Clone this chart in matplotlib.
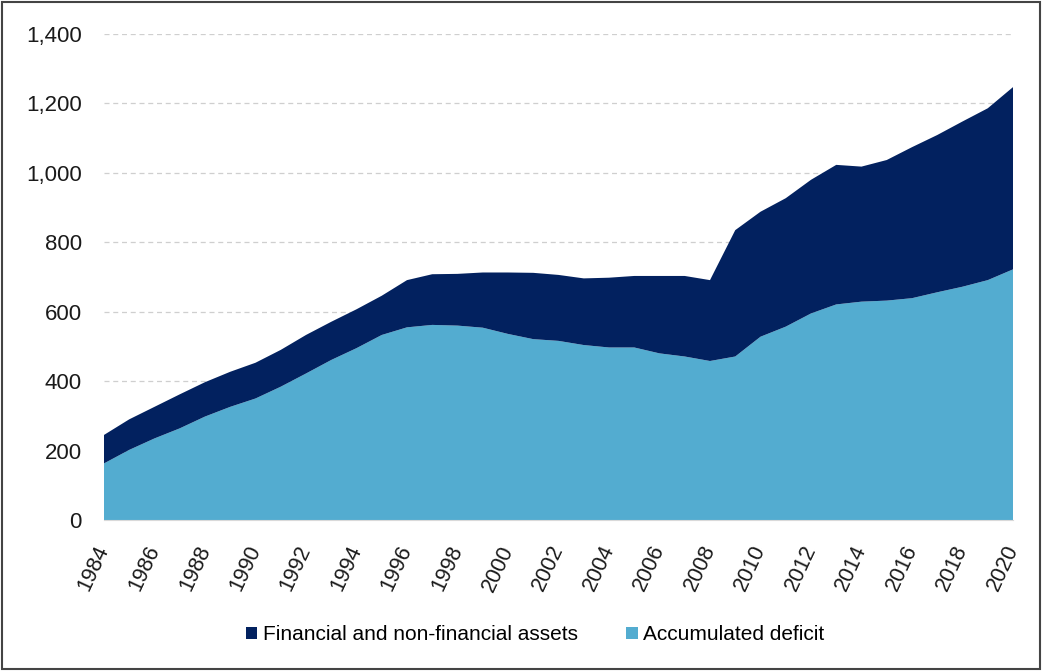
import matplotlib
matplotlib.use("Agg")
import matplotlib.pyplot as plt
from matplotlib.ticker import FuncFormatter, MultipleLocator
from matplotlib.patches import Rectangle

plt.rcParams['font.family'] = ['Liberation Sans', 'DejaVu Sans']

years = list(range(1984, 2021))
accumulated_deficit = [163, 202, 235, 264, 298, 326, 350, 384, 422, 461, 495, 533, 555,
                       562, 560, 554, 536, 521, 516, 504, 497, 497, 480, 471, 458, 471,
                       528, 557, 595, 621, 629, 632, 639, 656, 672, 691, 722]
total = [245, 290, 326, 362, 397, 427, 453, 490, 533, 571, 607, 646, 691,
         708, 709, 713, 713, 712, 706, 696, 698, 703, 703, 703, 691, 835,
         888, 927, 980, 1023, 1018, 1037, 1074, 1109, 1148, 1186, 1247]
assets = [t - d for t, d in zip(total, accumulated_deficit)]

dark = '#02215F'
light = '#53ACD0'

fig = plt.figure(figsize=(10.42, 6.71), dpi=100)
ax = fig.add_axes([104 / 1042, 1 - 520 / 671, (1013 - 104) / 1042, (520 - 34) / 671])

ax.stackplot(years, accumulated_deficit, assets, colors=[light, dark],
             labels=['Accumulated deficit', 'Financial and non-financial assets'],
             linewidth=0)

ax.set_xlim(1984, 2020)
ax.set_ylim(0, 1400)
ax.yaxis.set_major_locator(MultipleLocator(200))
ax.yaxis.set_major_formatter(FuncFormatter(lambda v, p: f'{int(v):,}'))
ax.set_xticks(years[::2])
ax.set_xticklabels([str(y) for y in years[::2]], rotation=65, ha='right',
                   va='center', rotation_mode='anchor')
ax.tick_params(axis='both', labelsize=16, colors='#1A1A1A', length=0)
ax.tick_params(axis='y', pad=16)
ax.tick_params(axis='x', pad=19, labelsize=15.5)

ax.grid(axis='y', color='#CFCFCF', linestyle=(0, (4, 3)), linewidth=0.9)
ax.set_axisbelow(True)
for side in ['top', 'right', 'left']:
    ax.spines[side].set_visible(False)
ax.spines['bottom'].set_color('#D9D9D9')

handles, labels = ax.get_legend_handles_labels()
leg = fig.legend(handles[::-1], labels[::-1], loc='center', ncol=2,
                 bbox_to_anchor=(0.5134, 1 - 635 / 671), frameon=False,
                 fontsize=15, handlelength=0.55, handleheight=0.55,
                 handletextpad=0.25, columnspacing=2.33)

fig.patches.append(Rectangle((2 / 1042, 2 / 671), 1 - 4 / 1042, 1 - 4 / 671,
                             transform=fig.transFigure, fill=False,
                             edgecolor='#444444', linewidth=1.5))

fig.savefig('out.png', dpi=100)
